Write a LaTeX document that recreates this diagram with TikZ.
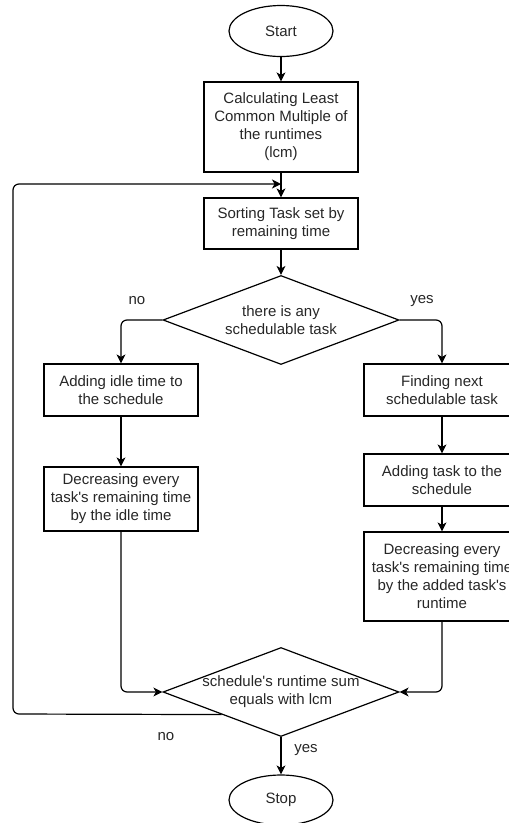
\documentclass[tikz,border=0pt]{standalone}
\usepackage{fontspec}
\setmainfont{Liberation Sans}
\usetikzlibrary{shapes.geometric,arrows.meta}
\newcommand{\apos}{\textquotesingle}
\begin{document}
\begin{tikzpicture}[x=1pt,y=-1pt,
  font=\fontsize{15}{18}\selectfont,
  every node/.style={text=black!85},
  box/.style={draw=black,line width=1.2pt,rectangle,minimum width=154pt,inner sep=0pt,align=center},
  term/.style={draw=black,line width=1.2pt,ellipse,minimum width=104pt,minimum height=51pt,inner sep=0pt},
  decision/.style={draw=black,line width=1.2pt,diamond,minimum width=236pt,minimum height=89pt,inner sep=0pt},
  txt/.style={align=center,inner sep=0pt},
  lbl/.style={inner sep=0pt},
  flow/.style={draw=black,line width=1.2pt,rounded corners=6pt,-{Stealth[length=9pt,width=9pt,inset=2.5pt]}},
  plain/.style={draw=black,line width=1.2pt,rounded corners=6pt}]
\useasboundingbox (0,0) rectangle (509,823);

% process steps
\node[term] (start) at (281,31) {Start};
\node[box,minimum height=90pt] (lcm) at (281,127) {Calculating Least\\Common Multiple of\\the runtimes\\(lcm)};
\node[box,minimum height=51pt] (sort) at (281,223.5) {Sorting Task set by\\remaining time};
\node[decision] (dec1) at (281,320) {};
\node[txt] (dec1t) at (281,320) {there is any\\schedulable task};

\node[box,minimum height=52pt] (idle) at (121,390) {Adding idle time to\\the schedule};
\node[box,minimum height=64pt] (decidle) at (121,499) {Decreasing every\\task\apos s remaining time\\by the idle time};

\node[box,minimum width=156pt,minimum height=52pt] (find) at (442,390) {Finding next\\schedulable task};
\node[box,minimum width=156pt,minimum height=52pt] (add) at (442,480) {Adding task to the\\schedule};
\node[box,minimum width=156pt,minimum height=89pt] (dectask) at (442,576.5) {Decreasing every\\task\apos s remaining time\\by the added task\apos s\\runtime};

\node[decision] (dec2) at (281,692) {};
\node[txt] (dec2t) at (281,692) {schedule\apos s runtime sum\\equals with lcm};
\node[term,minimum height=50pt] (stop) at (281,800) {Stop};

% branch labels
\node[lbl] (no1) at (137,301) {no};
\node[lbl] (yes1) at (422,301) {yes};
\node[lbl] (no2) at (166,737) {no};
\node[lbl] (yes2) at (306,750) {yes};

% loop-back route
\coordinate (lb) at (13,714);
\coordinate (lt) at (13,184);
\coordinate (loopin) at (281,184);

% connectors
\draw[flow] (start) -- (lcm);
\draw[flow] (lcm) -- (sort);
\draw[flow] (sort) -- (dec1);
\draw[flow] (dec1.west) -| (idle.north);
\draw[flow] (dec1.east) -| (find.north);
\draw[flow] (idle) -- (decidle);
\draw[flow] (find) -- (add);
\draw[flow] (add) -- (dectask);
\draw[flow] (decidle.south) |- (dec2.west);
\draw[flow] (dectask.south) |- (dec2.east);
\draw[flow] (dec2.south west) -- (lb) -- (lt) -- (loopin);
\draw[flow] (dec2) -- (stop);
\end{tikzpicture}
\end{document}
